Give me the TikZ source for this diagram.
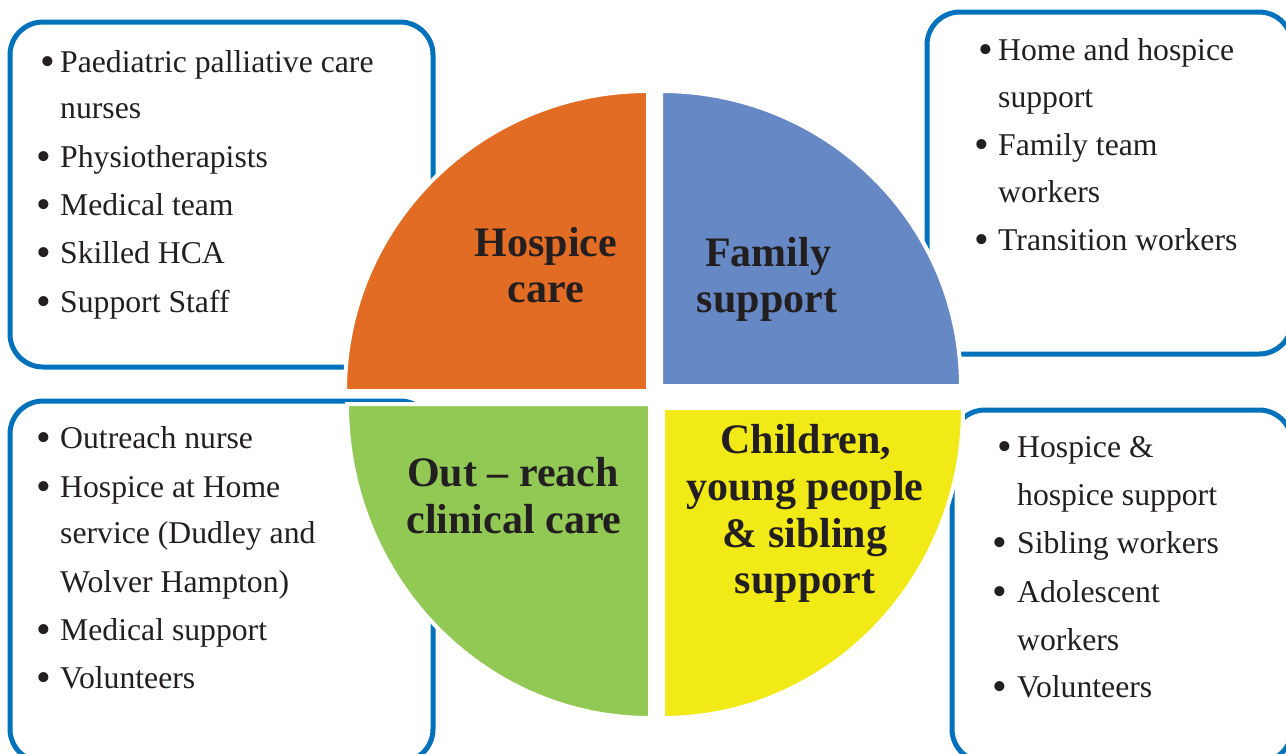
\documentclass[tikz,border=0pt]{standalone}
\usepackage{fontspec}
\setmainfont{Liberation Serif}
\definecolor{bord}{RGB}{0,114,188}
\definecolor{qorange}{RGB}{226,108,36}
\definecolor{qblue}{RGB}{102,136,196}
\definecolor{qgreen}{RGB}{146,201,84}
\definecolor{qyellow}{RGB}{242,234,22}
\definecolor{txt}{RGB}{35,31,32}
\newcommand\itemfnt{\fontsize{31.7}{38}\selectfont}
\newcommand\bulfnt{\fontsize{42}{42}\selectfont}
\newcommand\labfnt{\fontsize{42}{47}\selectfont\bfseries}
\newcommand\bdot{\raisebox{-3.4pt}{•}}
\tikzset{
  panel/.style={draw=bord, line width=5pt, rounded corners=33pt},
  quad/.style={draw=white, line width=4pt},
  itm/.style={anchor=base west, inner sep=0pt, font=\itemfnt, text=txt},
  bul/.style={anchor=base, inner sep=0pt, font=\bulfnt, text=txt},
  lab/.style={anchor=base, inner sep=0pt, font=\labfnt, text=txt}
}
\begin{document}
\begin{tikzpicture}[x=1pt, y=-1pt]
\useasboundingbox (0,0) rectangle (1286,753);
% panels
\draw[panel] (10,22) rectangle (433,367);
\draw[panel] (927,12) rectangle (1292,354);
\draw[panel] (10,401) rectangle (433,762);
\draw[panel] (952,410) rectangle (1292,762);
% quadrants
\fill[qorange, quad] (648,391) -- ++(-303,0) arc[start angle=180, end angle=270, x radius=303, y radius=300] -- cycle;
\fill[qblue, quad] (661,386) -- ++(0,-295) arc[start angle=270, end angle=360, x radius=300, y radius=295] -- cycle;
\fill[qgreen, quad] (650,404) -- ++(0,314) arc[start angle=90, end angle=180, x radius=303, y radius=314] -- cycle;
\fill[qyellow, quad] (663,408) -- ++(300,0) arc[start angle=0, end angle=90, x radius=300, y radius=310] -- cycle;
% quadrant labels
\node[lab] (hc1) at (546,256) {Hospice};
\node[lab] (hc2) at (546,302) {care};
\node[lab] (fs1) at (768,266) {Family};
\node[lab] (fs2) at (767,312) {support};
\node[lab] (oc1) at (513,486) {Out -- reach};
\node[lab] (oc2) at (514,533) {clinical care};
\node[lab] (cy1) at (806,453) {Children,};
\node[lab] (cy2) at (805,500) {young people};
\node[lab] (cy3) at (805,547) {\& sibling};
\node[lab] (cy4) at (805,593) {support};
% top-left list
\node[bul] (b11) at (48,72) {\bdot};
\node[itm] (t11) at (60,72) {Paediatric palliative care};
\node[itm] (t12) at (60,118) {nurses};
\node[bul] (b13) at (44,167) {\bdot};
\node[itm] (t13) at (60,167) {Physiotherapists};
\node[bul] (b14) at (44,215) {\bdot};
\node[itm] (t14) at (60,215) {Medical team};
\node[bul] (b15) at (44,263) {\bdot};
\node[itm] (t15) at (60,263) {Skilled HCA};
\node[bul] (b16) at (44,312) {\bdot};
\node[itm] (t16) at (60,312) {Support Staff};
% top-right list
\node[bul] (b21) at (986,60) {\bdot};
\node[itm] (t21) at (998,60) {Home and hospice};
\node[itm] (t22) at (998,107) {support};
\node[bul] (b23) at (982,155) {\bdot};
\node[itm] (t23) at (998,155) {Family team};
\node[itm] (t24) at (998,202) {workers};
\node[bul] (b25) at (982,250) {\bdot};
\node[itm] (t25) at (998,250) {Transition workers};
% bottom-left list
\node[bul] (b31) at (44,448) {\bdot};
\node[itm] (t31) at (60,448) {Outreach nurse};
\node[bul] (b32) at (44,497) {\bdot};
\node[itm] (t32) at (60,497) {Hospice at Home};
\node[itm] (t33) at (60,543) {service (Dudley and};
\node[itm] (t34) at (60,592) {Wolver Hampton)};
\node[bul] (b35) at (44,640) {\bdot};
\node[itm] (t35) at (60,640) {Medical support};
\node[bul] (b36) at (44,688) {\bdot};
\node[itm] (t36) at (60,688) {Volunteers};
% bottom-right list
\node[bul] (b41) at (1005,457) {\bdot};
\node[itm] (t41) at (1017,457) {Hospice \&};
\node[itm] (t42) at (1017,505) {hospice support};
\node[bul] (b43) at (1000,553) {\bdot};
\node[itm] (t43) at (1017,553) {Sibling workers};
\node[bul] (b44) at (1000,602) {\bdot};
\node[itm] (t44) at (1017,602) {Adolescent};
\node[itm] (t45) at (1017,650) {workers};
\node[bul] (b46) at (1000,697) {\bdot};
\node[itm] (t46) at (1017,697) {Volunteers};
\end{tikzpicture}
\end{document}
